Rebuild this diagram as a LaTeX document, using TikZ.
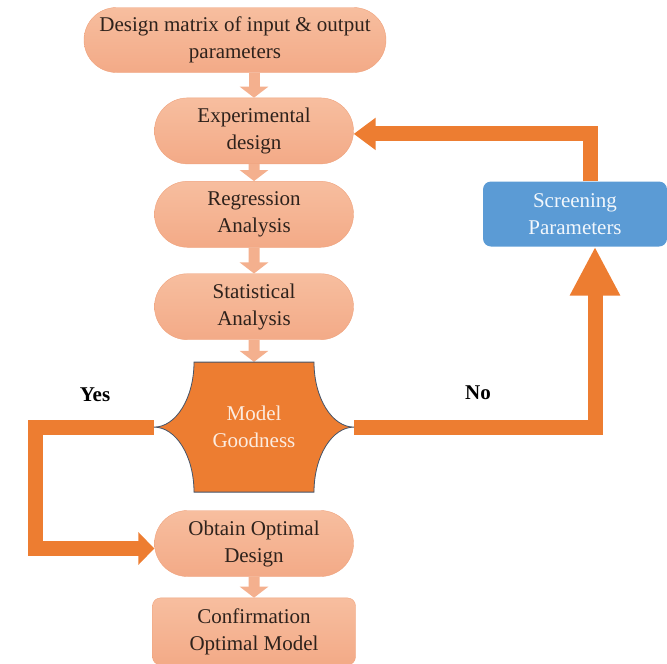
\documentclass[tikz,border=0pt]{standalone}
\usepackage{fontspec}
\setmainfont{Liberation Serif}
\usepackage{xcolor}
\usepackage{tikz}
\usetikzlibrary{arrows.meta,positioning,shapes.misc}

\definecolor{salmontop}{HTML}{F7BE9F}
\definecolor{salmonbot}{HTML}{F3AA87}
\definecolor{salmonline}{HTML}{EFA27C}
\definecolor{salmonarr}{HTML}{F4B08E}
\definecolor{darkorange}{HTML}{ED7D31}
\definecolor{slateline}{HTML}{44546A}
\definecolor{steelblue}{HTML}{5B9BD5}
\definecolor{boxtext}{HTML}{2E221C}

\begin{document}
\begin{tikzpicture}[
    x=1pt, y=-1pt,
    font=\fontsize{21}{27}\selectfont,
    stage/.style={rounded rectangle, draw=salmonline, top color=salmontop,
                  bottom color=salmonbot, text=boxtext, align=center,
                  minimum width=203pt, minimum height=66pt, inner sep=2pt},
    final/.style={stage, rectangle, rounded corners=8pt},
    screen/.style={rectangle, rounded corners=8pt, fill=steelblue,
                   text=white!92!steelblue, align=center,
                   minimum width=184pt, minimum height=65pt},
    flow/.style={line width=11pt, draw=salmonarr,
                 -{Triangle[length=11pt,width=28pt]}},
    loop/.style={line width=15pt, draw=darkorange},
    tag/.style={font=\fontsize{21}{27}\selectfont\bfseries}
  ]
  \useasboundingbox (0,0) rectangle (667,664);

  \node[stage, minimum width=306pt, minimum height=65pt] (matrix) at (235,40)
       {Design matrix of input \& output\\parameters};
  \node[stage, below=25pt of matrix, xshift=19pt] (exper) {Experimental\\design};
  \node[stage, below=17pt of exper] (regr) {Regression\\Analysis};
  \node[stage, below=26pt of regr]  (stat) {Statistical\\Analysis};
  \node[minimum width=200pt, minimum height=130pt, inner sep=0pt,
        below=22pt of stat] (good) {};
  \node[stage, below=18pt of good]  (optim) {Obtain Optimal\\Design};
  \node[final, below=21pt of optim, minimum height=67pt] (confirm)
       {Confirmation\\Optimal Model};
  \node[screen] (screen) at (575,214) {Screening\\Parameters};

  \node[tag] (yes) at (95,395) {Yes};
  \node[tag] (no)  at (478,393) {No};

  % small arrows down the main column
  \draw[flow] (matrix.south -| exper.north) -- (exper.north);
  \draw[flow] (exper) -- (regr);
  \draw[flow] (regr)  -- (stat);
  \draw[flow] (stat)  -- (good);
  \draw[flow] (optim) -- (confirm);

  % decision branches
  \draw[loop, -{Triangle[length=16pt,width=32pt]}]
    (good.west) -- ++(-118,0) |- ([yshift=-5pt]optim.west);
  \draw[loop, -{Triangle[length=49pt,width=47pt]}]
    (good.east) -| ([xshift=20pt]screen.south);
  \draw[loop, -{Triangle[length=22pt,width=31pt]}]
    ([xshift=15pt]screen.north) |- ([yshift=-3pt]exper.east);

  % decision block with concave sides
  \draw[fill=darkorange, draw=slateline, line width=0.8pt, shift={(good.center)}]
    (-60,-65) -- (60,-65)
    .. controls (60,-29) and (78,0) .. (100,0)
    .. controls (78,0) and (60,29) .. (60,65)
    -- (-60,65)
    .. controls (-60,29) and (-78,0) .. (-100,0)
    .. controls (-78,0) and (-60,-29) .. cycle;
  \node[text=white!85!darkorange, align=center] at (good.center) {Model\\Goodness};
\end{tikzpicture}
\end{document}
